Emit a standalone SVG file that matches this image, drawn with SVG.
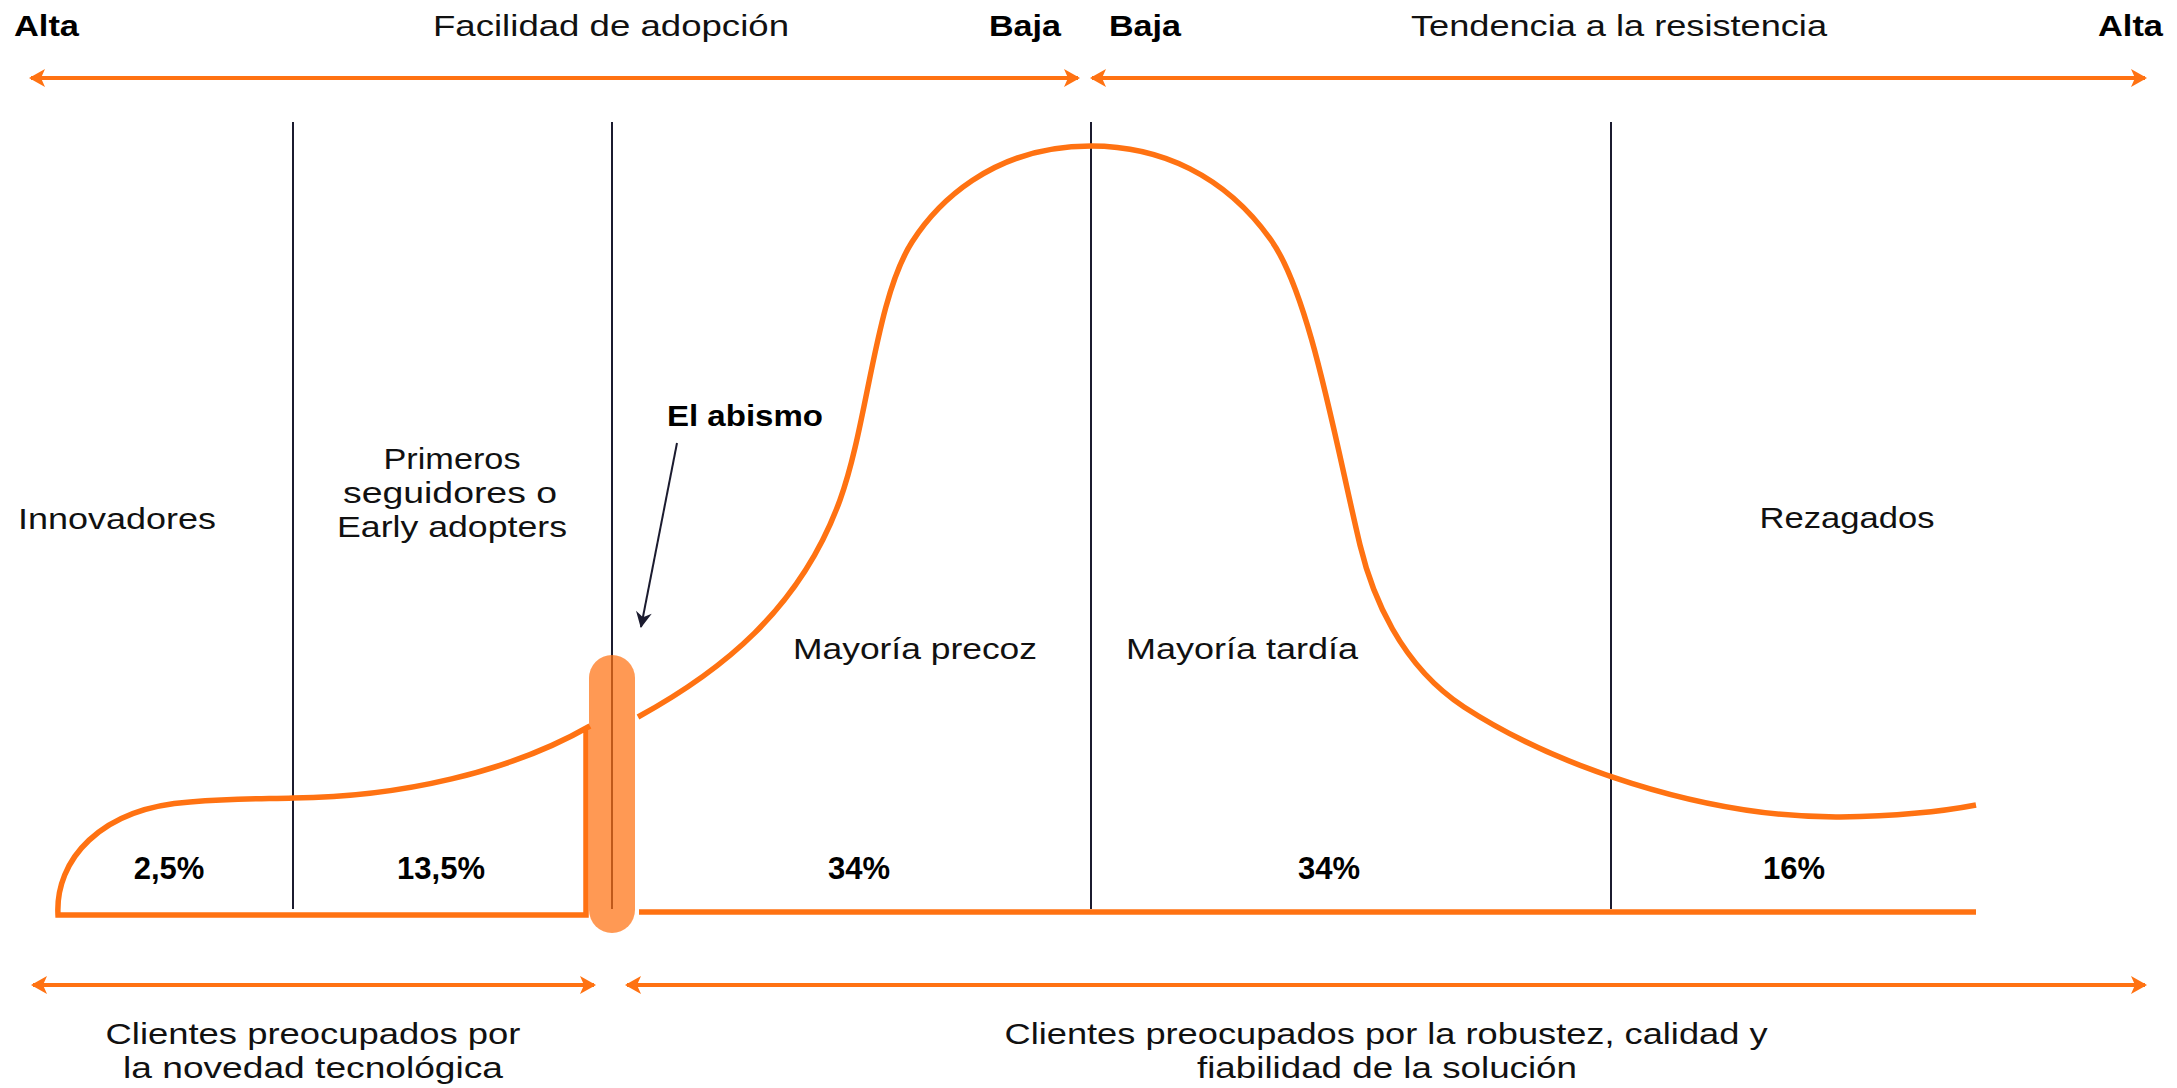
<svg xmlns="http://www.w3.org/2000/svg" width="2177" height="1088" viewBox="0 0 2177 1088">
<style>
.t{font-family:"Liberation Sans","Roboto",sans-serif;font-size:29px;fill:#111;}
.b{font-family:"Liberation Sans","Roboto",sans-serif;font-size:29px;font-weight:700;fill:#000;}
.p{font-family:"Liberation Sans","Roboto",sans-serif;font-size:31px;font-weight:700;fill:#000;text-anchor:middle;}
.m{text-anchor:middle;}
.ax{stroke:#FF7212;stroke-width:4;fill:none;}
.div{stroke:#1B1B2F;stroke-width:2;fill:none;}
.curve{stroke:#FF7212;stroke-width:5.5;fill:none;stroke-linejoin:miter;}
</style>
<defs>
<marker id="oa" markerUnits="userSpaceOnUse" markerWidth="20" markerHeight="20" viewBox="-16 -10 20 20" refX="0" refY="0" orient="auto-start-reverse">
<path d="M-14,-9 L2,0 L-14,9 L-10,0 Z" fill="#FF7212"/>
</marker>
<marker id="da" markerUnits="userSpaceOnUse" markerWidth="20" markerHeight="20" viewBox="-16 -10 20 20" refX="0" refY="0" orient="auto">
<path d="M-15,-8 L1,0 L-15,8 L-10,0 Z" fill="#1B1B2F"/>
</marker>
</defs>
<rect width="2177" height="1088" fill="#fff"/>

<g id="connectors">
<line class="ax" x1="31" y1="78" x2="1078" y2="78" marker-start="url(#oa)" marker-end="url(#oa)"/>
<line class="ax" x1="1092" y1="78" x2="2145" y2="78" marker-start="url(#oa)" marker-end="url(#oa)"/>
<line class="ax" x1="33" y1="985" x2="594" y2="985" marker-start="url(#oa)" marker-end="url(#oa)"/>
<line class="ax" x1="627" y1="985" x2="2145" y2="985" marker-start="url(#oa)" marker-end="url(#oa)"/>
<line x1="677" y1="443" x2="641" y2="627" stroke="#1B1B2F" stroke-width="2" marker-end="url(#da)"/>
</g>

<g id="dividers">
<line class="div" x1="293" y1="122" x2="293" y2="909"/>
<line class="div" x1="612" y1="122" x2="612" y2="909"/>
<line class="div" x1="1091" y1="122" x2="1091" y2="909"/>
<line class="div" x1="1611" y1="122" x2="1611" y2="909"/>
</g>

<g id="curve">
<path class="curve" d="M586,729 V915 H58 C55,860 100,808 190,802 C240,798 270,799 293,798 C400,797 510,772 590,726"/>
<path class="curve" d="M638,717 C720,672 800,610 840,500 C868,423 875,300 912,242 C935,206 990,146 1091,146 C1160,146 1225,175 1271,240 C1310,295 1335,440 1360,545 C1372,595 1400,665 1464,707 C1550,763 1700,818 1840,817 C1900,816 1940,812 1976,805"/>
<line class="curve" x1="639" y1="912" x2="1976" y2="912"/>
</g>

<g id="chasm">
<rect x="589" y="655" width="46" height="278" rx="23" fill="#FF7212" fill-opacity="0.72"/>
</g>

<g id="header">
<text class="b" x="14" y="36" textLength="65" lengthAdjust="spacingAndGlyphs">Alta</text>
<text class="t m" x="611" y="36" textLength="356" lengthAdjust="spacingAndGlyphs">Facilidad de adopción</text>
<text class="b" x="989" y="36" textLength="72" lengthAdjust="spacingAndGlyphs">Baja</text>
<text class="b" x="1109" y="36" textLength="72" lengthAdjust="spacingAndGlyphs">Baja</text>
<text class="t m" x="1619" y="36" textLength="416" lengthAdjust="spacingAndGlyphs">Tendencia a la resistencia</text>
<text class="b" x="2098" y="36" textLength="65" lengthAdjust="spacingAndGlyphs">Alta</text>
</g>

<g id="innovadores">
<text class="t" x="18" y="529" textLength="198" lengthAdjust="spacingAndGlyphs">Innovadores</text>
<text class="p" x="169" y="879">2,5%</text>
</g>

<g id="early-adopters">
<text class="t m" x="452" y="469" textLength="137" lengthAdjust="spacingAndGlyphs">Primeros</text>
<text class="t m" x="450" y="503" textLength="214" lengthAdjust="spacingAndGlyphs">seguidores o</text>
<text class="t m" x="452" y="537" textLength="230" lengthAdjust="spacingAndGlyphs">Early adopters</text>
<text class="p" x="441" y="879">13,5%</text>
</g>

<g id="el-abismo">
<text class="b" x="667" y="426" textLength="156" lengthAdjust="spacingAndGlyphs">El abismo</text>
</g>

<g id="mayoria-precoz">
<text class="t m" x="915" y="659" textLength="244" lengthAdjust="spacingAndGlyphs">Mayoría precoz</text>
<text class="p" x="859" y="879">34%</text>
</g>

<g id="mayoria-tardia">
<text class="t m" x="1242" y="659" textLength="232" lengthAdjust="spacingAndGlyphs">Mayoría tardía</text>
<text class="p" x="1329" y="879">34%</text>
</g>

<g id="rezagados">
<text class="t m" x="1847" y="528" textLength="175" lengthAdjust="spacingAndGlyphs">Rezagados</text>
<text class="p" x="1794" y="879">16%</text>
</g>

<g id="footer">
<text class="t m" x="313" y="1044" textLength="415" lengthAdjust="spacingAndGlyphs">Clientes preocupados por</text>
<text class="t m" x="313" y="1078" textLength="380" lengthAdjust="spacingAndGlyphs">la novedad tecnológica</text>
<text class="t m" x="1386" y="1044" textLength="763" lengthAdjust="spacingAndGlyphs">Clientes preocupados por la robustez, calidad y</text>
<text class="t m" x="1387" y="1078" textLength="380" lengthAdjust="spacingAndGlyphs">fiabilidad de la solución</text>
</g>
</svg>
